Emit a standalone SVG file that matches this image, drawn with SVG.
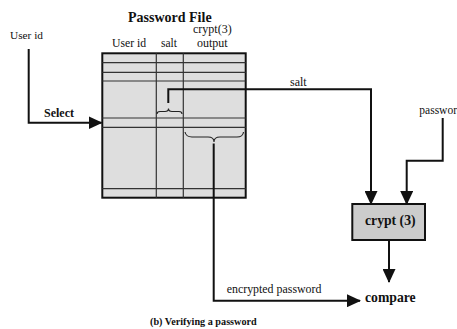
<svg xmlns="http://www.w3.org/2000/svg" width="457" height="329" viewBox="0 0 457 329">
<defs>
<style>
text{font-family:"Liberation Serif","Times New Roman",serif;fill:#111}
.b{font-weight:bold}
.ln{fill:none;stroke:#111;stroke-width:2}
.grid{stroke:#333;stroke-width:1.2;fill:none}
.br{fill:none;stroke:#222;stroke-width:1.1}
</style>
<marker id="ah" markerWidth="14" markerHeight="13" refX="13" refY="6.5" orient="auto" markerUnits="userSpaceOnUse">
<path d="M0,0 L14,6.5 L0,13 Z" fill="#111"/>
</marker>
</defs>
<rect width="457" height="329" fill="#fff"/>

<g id="password-file">
<text class="b" x="128" y="22" font-size="14">Password File</text>
<text x="193" y="33" font-size="12">crypt(3)</text>
<text x="112" y="47" font-size="11.7">User id</text>
<text x="161" y="47" font-size="11.5">salt</text>
<text x="197" y="47" font-size="12">output</text>
<rect x="102.3" y="53.3" width="143.4" height="144.4" fill="#dedede" stroke="#111" stroke-width="2"/>
<path class="grid" d="M102.3,62.7H245.7M102.3,72.3H245.7M102.3,81H245.7M102.3,118H245.7M102.3,127.3H245.7M102.3,188.7H245.7M156.3,53.3V197.7M183.3,53.3V197.7"/>
<path class="br" d="M157,114 Q157,111.5 160,111.5 L165,111.5 Q168.5,111.5 168.5,108.5 Q168.5,111.5 172,111.5 L179,111.5 Q182,111.5 182,114"/>
<path class="br" d="M185,132 Q186,137 192,137 L208,137 Q214,137 214,142 Q214,137 220,137 L237,137 Q243,137 243.5,132"/>
</g>

<g id="user-id">
<text x="10" y="39" font-size="11.3">User id</text>
</g>

<g id="password">
<text x="419.3" y="114" font-size="11.5">password</text>
</g>

<g id="crypt">
<rect x="352.3" y="204" width="72.7" height="36" fill="#cccccc" stroke="#111" stroke-width="2"/>
<text class="b" x="365" y="225" font-size="13.7">crypt (3)</text>
</g>

<g id="compare">
<text class="b" x="365" y="302" font-size="13.7">compare</text>
</g>

<g id="connectors">
<path class="ln" d="M28.7,49 V122.7 H101.5" marker-end="url(#ah)"/>
<text class="b" x="44" y="117" font-size="12">Select</text>
<path class="ln" d="M168.3,103 V89.3 H371 V204" marker-end="url(#ah)"/>
<text x="290" y="85.7" font-size="12">salt</text>
<path class="ln" d="M442.7,118 V160.7 H406.7 V204" marker-end="url(#ah)"/>
<path class="ln" d="M389,240 V282" marker-end="url(#ah)"/>
<path class="ln" d="M213.7,143.5 V300.7 H360" marker-end="url(#ah)"/>
<text x="226.7" y="293.3" font-size="11.9">encrypted password</text>
</g>

<text class="b" x="150" y="325" font-size="10.2">(b) Verifying a password</text>
</svg>
